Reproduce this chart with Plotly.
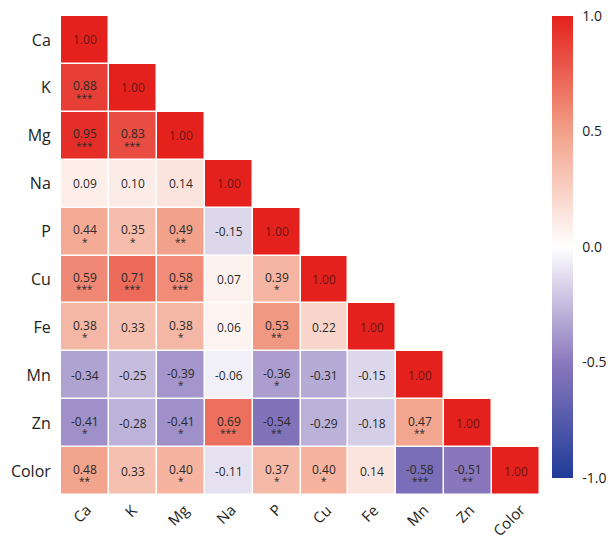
import plotly.graph_objects as go

labels = ["Ca", "K", "Mg", "Na", "P", "Cu", "Fe", "Mn", "Zn", "Color"]

# lower-triangle correlation values (row-wise)
r_Ca = [1.00]
r_K = [0.88, 1.00]
r_Mg = [0.95, 0.83, 1.00]
r_Na = [0.09, 0.10, 0.14, 1.00]
r_P = [0.44, 0.35, 0.49, -0.15, 1.00]
r_Cu = [0.59, 0.71, 0.58, 0.07, 0.39, 1.00]
r_Fe = [0.38, 0.33, 0.38, 0.06, 0.53, 0.22, 1.00]
r_Mn = [-0.34, -0.25, -0.39, -0.06, -0.36, -0.31, -0.15, 1.00]
r_Zn = [-0.41, -0.28, -0.41, 0.69, -0.54, -0.29, -0.18, 0.47, 1.00]
r_Color = [0.48, 0.33, 0.40, -0.11, 0.37, 0.40, 0.14, -0.58, -0.51, 1.00]

# significance stars
s_Ca = [""]
s_K = ["***", ""]
s_Mg = ["***", "***", ""]
s_Na = ["", "", "", ""]
s_P = ["*", "*", "**", "", ""]
s_Cu = ["***", "***", "***", "", "*", ""]
s_Fe = ["*", "", "*", "", "**", "", ""]
s_Mn = ["", "", "*", "", "*", "", "", ""]
s_Zn = ["*", "", "*", "***", "**", "", "", "**", ""]
s_Color = ["**", "", "*", "", "*", "*", "", "***", "**", ""]

rows = [r_Ca, r_K, r_Mg, r_Na, r_P, r_Cu, r_Fe, r_Mn, r_Zn, r_Color]
stars = [s_Ca, s_K, s_Mg, s_Na, s_P, s_Cu, s_Fe, s_Mn, s_Zn, s_Color]

n = len(labels)
z = [[(row[j] if j < len(row) else None) for j in range(n)] for row in rows]

colorscale = [
    [0.0, "#1f3c99"],
    [0.25, "#8a78bd"],
    [0.5, "#ffffff"],
    [0.75, "#f2a088"],
    [1.0, "#e4211c"],
]

FONT = "Open Sans"

fig = go.Figure(
    go.Heatmap(
        z=z, x=labels, y=labels,
        zmin=-1, zmax=1,
        colorscale=colorscale,
        xgap=1.5, ygap=1.5,
        hoverongaps=False,
        colorbar=dict(
            thickness=21, lenmode="pixels", len=462,
            x=1.025, xanchor="left", xpad=0,
            y=0.518, yanchor="middle", ypad=0,
            outlinewidth=0,
            tickvals=[-1, -0.5, 0, 0.5, 1],
            ticktext=["-1.0", "-0.5", "0.0", "0.5", "1.0"],
            ticks="outside", ticklen=7, tickcolor="rgba(0,0,0,0)",
            ticklabeloverflow="allow",
            tickfont=dict(size=14, color="#222", family=FONT),
        ),
    )
)

for i, row in enumerate(rows):
    for j, v in enumerate(row):
        st = stars[i][j]
        diag = (i == j)
        fig.add_annotation(
            x=labels[j], y=labels[i], text=f"{v:.2f}", showarrow=False,
            yshift=2 if st else 0, borderpad=0,
            font=dict(size=12, family=FONT, color="#6a1414" if diag else "#2a2a2a"),
        )
        if st:
            fig.add_annotation(
                x=labels[j], y=labels[i], text=st, showarrow=False,
                yshift=-10, borderpad=0,
                font=dict(size=10, family=FONT, color="#2a2a2a"),
            )

# x tick labels: rotated and centred under each column
for lab in labels:
    fig.add_annotation(
        x=lab, xref="x", y=0, yref="paper", yanchor="top", xanchor="center",
        yshift=-2, xshift=-1.5 * len(lab), text=lab, showarrow=False, textangle=-45,
        font=dict(size=15, color="#222", family=FONT),
    )

# page body has an 8px default margin, so the figure is sized to fit the window
fig.update_layout(
    width=606, height=530,
    margin=dict(l=53, r=74, t=8, b=43, autoexpand=False),
    plot_bgcolor="white", paper_bgcolor="white",
    xaxis=dict(showgrid=False, zeroline=False, showticklabels=False, automargin=False),
    yaxis=dict(showgrid=False, zeroline=False, autorange="reversed", automargin=False,
               tickfont=dict(size=16, color="#222", family=FONT), ticks="outside",
               ticklen=6, tickcolor="rgba(0,0,0,0)"),
)

fig.write_html("out.html")
